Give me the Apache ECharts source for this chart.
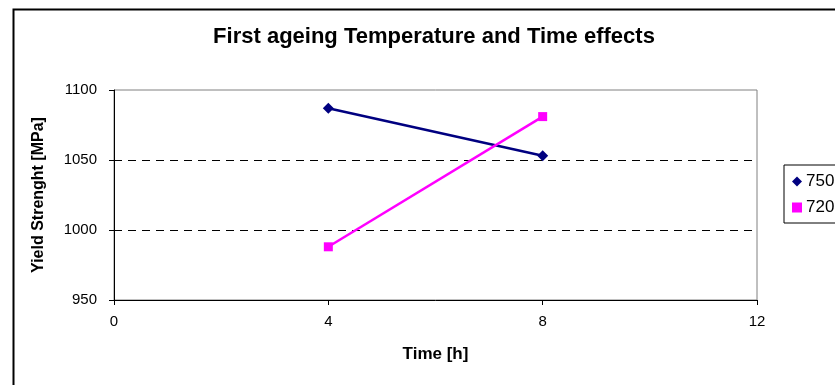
<!DOCTYPE html>
<html>
<head>
<meta charset="utf-8">
<script src="https://cdn.jsdelivr.net/npm/echarts@6/dist/echarts.min.js"></script>
<style>
  html, body { margin: 0; padding: 0; background: #fff; }
  #chart { width: 835px; height: 385px; }
</style>
</head>
<body>
<div id="chart"></div>
<script>
// ageing time [h]
var times = [4, 8];
// yield strength per ageing temperature
var s750 = [1087, 1053];
var s720 = [988, 1081];
var seriesNames = ['750', '720'];

var pairUp = function (xs, ys) {
    var out = [];
    for (var i = 0; i < xs.length; i++) {
        out.push([xs[i], ys[i]]);
    }
    return out;
};

var chart = echarts.init(document.getElementById('chart'));

chart.setOption({
    animation: false,
    textStyle: { fontFamily: 'Liberation Sans, Arial, sans-serif' },
    title: {
        text: 'First ageing Temperature and Time effects',
        left: 429, top: 21, textAlign: 'center',
        textStyle: { fontSize: 22, fontWeight: 'bold', color: '#000' }
    },
    graphic: [{
        type: 'rect', left: 11, top: 7, z: -1,
        shape: { width: 900, height: 420 },
        style: { fill: 'none', stroke: '#000', lineWidth: 2 }
    }],
    legend: {
        orient: 'vertical',
        left: 784, top: 165,
        padding: [8, 30, 7, 8],
        itemGap: 9,
        itemWidth: 10, itemHeight: 10,
        borderColor: '#000', borderWidth: 1,
        textStyle: { fontSize: 17, color: '#000', padding: [0, 0, 0, -1] },
        data: [
            { name: seriesNames[0], icon: 'diamond' },
            { name: seriesNames[1], icon: 'rect' }
        ]
    },
    grid: {
        left: 114, right: 78, top: 90, bottom: 85,
        show: true, borderColor: '#808080', borderWidth: 1
    },
    xAxis: {
        type: 'value', min: 0, max: 12, interval: 4,
        name: 'Time [h]', nameLocation: 'middle', nameGap: 46,
        nameTextStyle: { fontSize: 17, fontWeight: 'bold', color: '#000' },
        axisLine: { lineStyle: { color: '#000', width: 1 } },
        axisTick: { show: true, inside: false, length: 5, lineStyle: { color: '#000' } },
        axisLabel: { fontSize: 15, color: '#000', margin: 14 },
        splitLine: { show: false }
    },
    yAxis: {
        type: 'value', min: 950, max: 1100, interval: 50,
        name: 'Yield Strenght [MPa]', nameLocation: 'middle', nameGap: 67, nameRotate: 90,
        nameTextStyle: { fontSize: 16, fontWeight: 'bold', color: '#000' },
        axisLine: { show: true, lineStyle: { color: '#000', width: 1 } },
        axisTick: { show: true, inside: false, length: 5, lineStyle: { color: '#000' } },
        axisLabel: {
            fontSize: 15, color: '#000', margin: 17,
            formatter: function (v) { return String(v); }
        },
        splitLine: {
            show: true, showMinLine: false, showMaxLine: false,
            lineStyle: { color: '#000', type: [8, 6], width: 1 }
        }
    },
    series: [{
        name: seriesNames[0], type: 'line',
        data: pairUp(times, s750),
        symbol: 'diamond', symbolSize: 11,
        lineStyle: { color: '#000080', width: 2.5 },
        itemStyle: { color: '#000080' }
    }, {
        name: seriesNames[1], type: 'line',
        data: pairUp(times, s720),
        symbol: 'rect', symbolSize: 9,
        lineStyle: { color: '#FF00FF', width: 2.5 },
        itemStyle: { color: '#FF00FF' }
    }]
});
</script>
</body>
</html>
